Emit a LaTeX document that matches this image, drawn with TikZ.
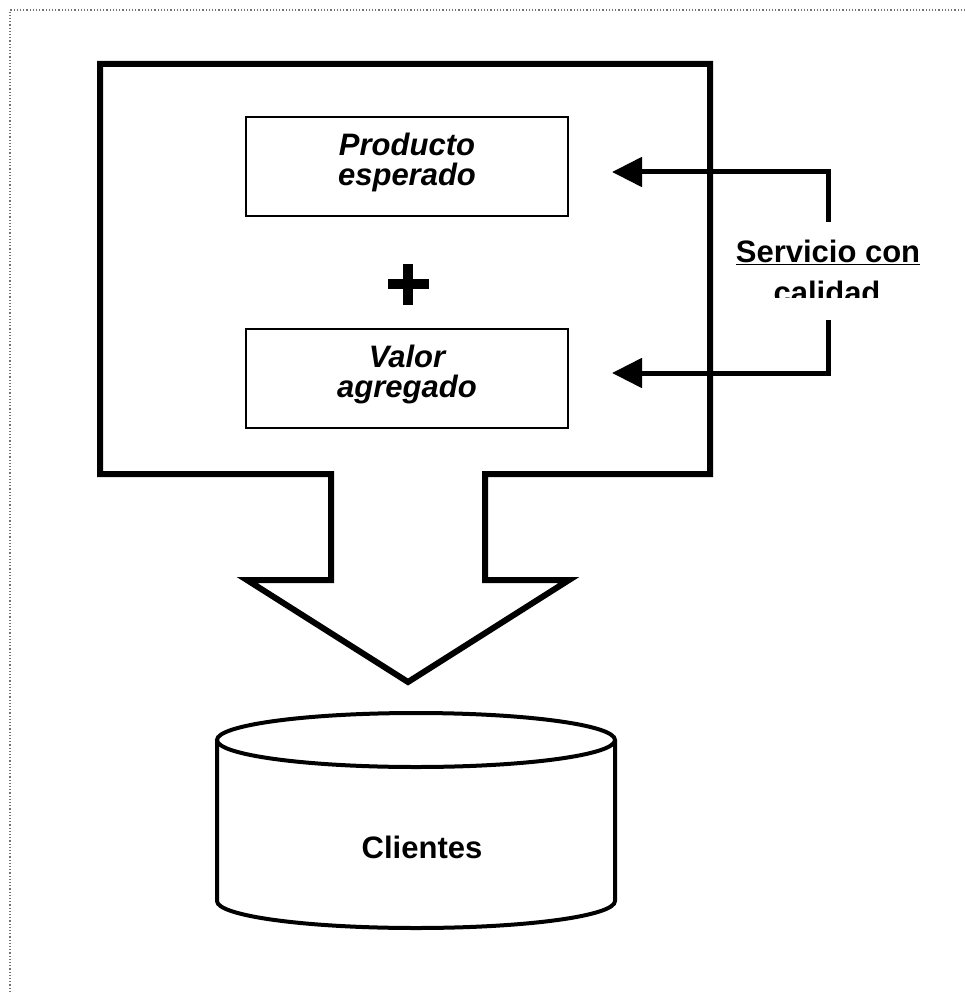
\documentclass[tikz,border=0pt]{standalone}
\usepackage{fontspec}
\setmainfont{Liberation Sans}
\usetikzlibrary{arrows.meta}

\begin{document}
\begin{tikzpicture}[
  x=1pt, y=-1pt,
  frame/.style={draw=black!55, dotted, line width=1.2pt},
  bigarrow/.style={draw=black, line width=6pt, line join=miter},
  itembox/.style={draw=black, line width=2pt, rectangle,
    minimum width=322pt, minimum height=99pt, inner sep=0pt},
  itemtext/.style={align=center, inner sep=0pt,
    font=\fontsize{31}{30}\selectfont\bfseries\itshape},
  feed/.style={draw=black, line width=5pt,
    -{Triangle[length=30pt,width=29pt]}},
  lbl/.style={font=\fontsize{31}{31}\selectfont\bfseries, align=center, inner sep=0pt},
  drum/.style={draw=black, line width=4pt},
]
\useasboundingbox (0,0) rectangle (965,992);

% page frame (only top and left edges fall inside the page)
\draw[frame] (10,992) -- (10,10) -- (965,10);

% block with the downward arrow underneath
\draw[bigarrow] (100,64) -- (710,64) -- (710,474) -- (485,474) -- (485,580)
  -- (569,580) -- (408,682) -- (247,580) -- (331,580) -- (331,474)
  -- (100,474) -- cycle;

% the two components
\node[itembox] (prod) at (407,166.5) {};
\node[itemtext] (prodtxt) at ([yshift=4pt]prod.center) {Producto\\esperado};
\node[itembox] (valor) at (407,378.5) {};
\node[itemtext] (valortxt) at ([yshift=4pt]valor.center) {Valor\\agregado};

% plus sign between them
\node[fill=black, minimum width=41pt, minimum height=10pt, inner sep=0pt] (plush) at (408,284) {};
\node[fill=black, minimum width=10pt, minimum height=41pt, inner sep=0pt] (plusv) at (408,284) {};

% label, second line cut off at the bottom
\begin{scope}
  \clip (690,230) rectangle (965,297);
  \node[lbl, anchor=base] (svc) at (828,262) {\underline{Servicio con}};
  \node[lbl, anchor=base] (cal) at (827,303) {calidad};
\end{scope}

% feedback connectors
\coordinate (s1) at (828,222);
\coordinate (s2) at (828,320);
\coordinate (t1) at (612,172);
\coordinate (t2) at (612,373);
\draw[feed] (s1) |- (t1);
\draw[feed] (s2) |- (t2);

% customer drum
\draw[drum] (217,740) -- (217,901)
  arc[start angle=180, end angle=360, x radius=199pt, y radius=27pt]
  -- (615,740);
\draw[drum] (416,740) ellipse[x radius=199pt, y radius=27pt];
\node[lbl] (cli) at (422,847) {Clientes};
\end{tikzpicture}
\end{document}
